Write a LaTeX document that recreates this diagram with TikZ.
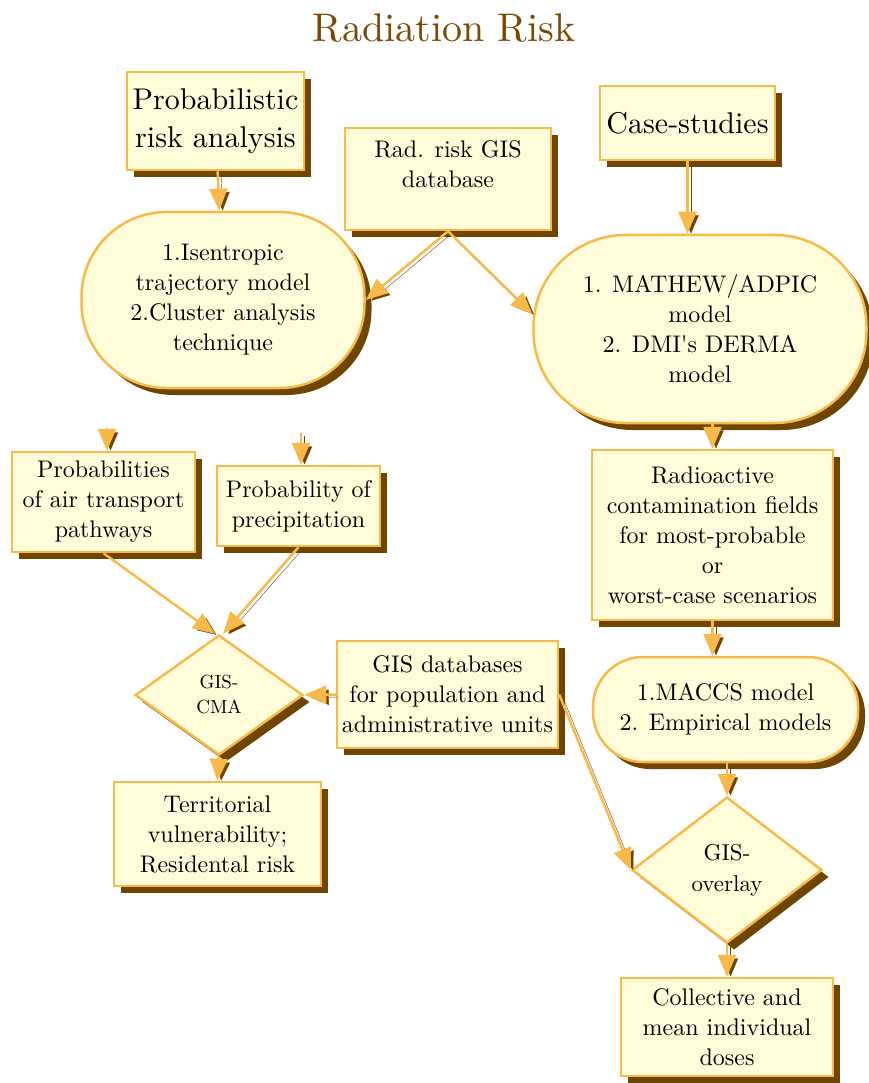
\documentclass[tikz,border=0pt]{standalone}
\usepackage{fontspec}
\IfFontExistsTF{lmroman10-regular.otf}
  {\setmainfont{lmroman10-regular.otf}[BoldFont=lmroman10-bold.otf]}
  {}
\usepackage{xcolor}
\usetikzlibrary{shapes,arrows,arrows.meta,positioning,shadows}

\definecolor{paper}{HTML}{FFFCDA}
\definecolor{rim}{HTML}{F7B94A}
\definecolor{umber}{HTML}{6E4600}
\definecolor{titlebrown}{HTML}{7A4A05}

\begin{document}
\begin{tikzpicture}[
    x=1pt, y=-1pt,
    box/.style={draw=rim, fill=paper, line width=2.5pt, rectangle, align=center, inner sep=0pt,
        drop shadow={shadow xshift=7pt, shadow yshift=-7pt, fill=umber, opacity=1},
        font=\fontsize{24}{30}\selectfont},
    oval/.style={box, rounded corners=#1},
    decision/.style={box, diamond},
    arr/.style={draw=rim, line width=2.5pt, -{Triangle[length=22pt,width=18pt]},
        preaction={draw=umber, transform canvas={shift={(3.5pt,-2.5pt)}}}}
]
    \useasboundingbox (0,0) rectangle (869,1083);

    \node[anchor=base, text=titlebrown, font=\fontsize{40}{48}\selectfont] (title) at (444,42) {Radiation Risk};

    % left column
    \node[box, minimum width=177pt, minimum height=98pt, font=\fontsize{30}{38}\selectfont] (prob) at (215.5,121) {Probabilistic\\risk analysis};
    \node[box, minimum width=206pt, minimum height=102pt] (raddb) at (448,179) {Rad. risk GIS\\database\\~};
    \node[oval=85pt, minimum width=283pt, minimum height=176pt] (iso) at (223,300) {1.Isentropic\\trajectory model\\2.Cluster analysis\\technique};
    \node[box, minimum width=183pt, minimum height=100pt] (pw) at (103.5,502) {Probabilities\\of air transport\\pathways};
    \node[box, minimum width=163pt, minimum height=80pt] (precip) at (298.5,506) {Probability of\\precipitation};
    \node[decision, minimum width=168pt, minimum height=120pt, font=\fontsize{19}{25}\selectfont] (cma) at (219,695) {GIS-\\CMA};
    \node[box, minimum width=221pt, minimum height=107pt] (gisdb) at (447.5,694.5) {GIS databases\\for population and\\administrative units};
    \node[box, minimum width=207pt, minimum height=104pt] (terr) at (217.5,834) {Territorial\\vulnerability;\\Residental risk};

    % right column
    \node[box, minimum width=175pt, minimum height=74pt, font=\fontsize{30}{38}\selectfont] (case) at (687.5,123) {Case-studies};
    \node[oval=92pt, minimum width=333pt, minimum height=188pt] (derma) at (700,329) {1. MATHEW/ADPIC\\model\\2. DMI\textquotesingle s DERMA\\model};
    \node[box, minimum width=241pt, minimum height=170pt] (radio) at (712.5,535) {Radioactive\\contamination fields\\for most-probable\\or\\worst-case scenarios};
    \node[oval=50pt, minimum width=265pt, minimum height=105pt] (maccs) at (725.5,709.5) {1.MACCS model\\2. Empirical models};
    \node[decision, minimum width=190pt, minimum height=146pt, font=\fontsize{23}{31}\selectfont] (overlay) at (727,870) {GIS-\\overlay};
    \node[box, minimum width=212pt, minimum height=98pt] (doses) at (727,1027) {Collective and\\mean individual\\doses};

    \coordinate (pwin) at (107,428);
    \coordinate (prin) at (301,433);

    \draw[arr] (prob) -- (iso);
    \draw[arr] (raddb.south) -- (iso.east);
    \draw[arr] (raddb.south) -- ([yshift=15pt]derma.west);
    \draw[arr] (case.south) -- (case.south |- derma.north);
    \draw[arr] (pwin) -- (pwin |- pw.north);
    \draw[arr] (prin) -- (prin |- precip.north);
    \draw[arr] (pw.south) -- ([xshift=-4pt]cma.north);
    \draw[arr] (precip.south) -- ([xshift=4pt]cma.north);
    \draw[arr] (gisdb.west) -- (cma.east);
    \draw[arr] (cma.south) -- (terr.north);
    \draw[arr] (gisdb.east) -- (overlay.west);
    \draw[arr] (derma.south -| radio.north) -- (radio.north);
    \draw[arr] (radio.south) -- (radio.south |- maccs.north);
    \draw[arr] (maccs.south -| overlay.north) -- (overlay.north);
    \draw[arr] (overlay.south) -- (doses.north);
\end{tikzpicture}
\end{document}
